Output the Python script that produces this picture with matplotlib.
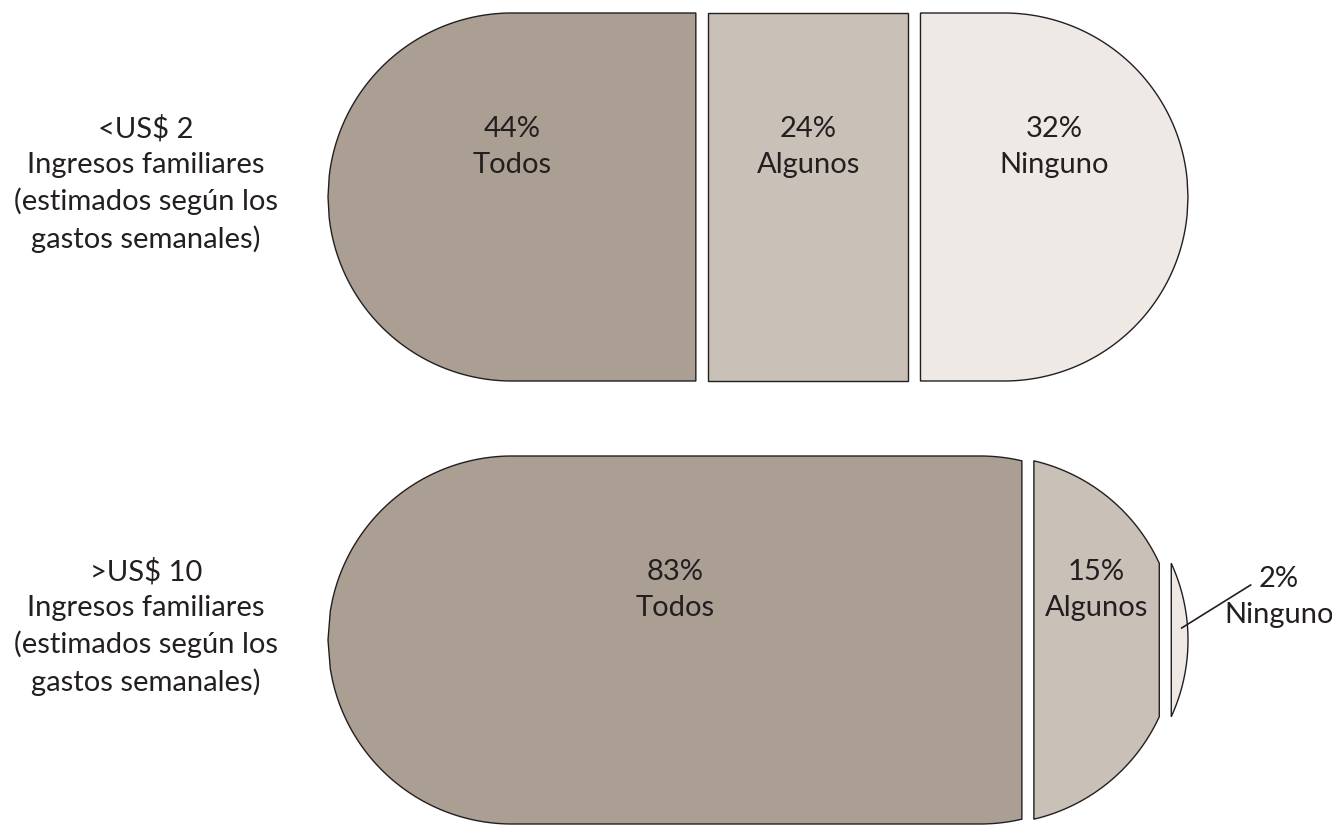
import numpy as np
import matplotlib.pyplot as plt

# data
categories = ['Todos', 'Algunos', 'Ninguno']
groups = ['<US$ 2\nIngresos familiares\n(estimados según los\ngastos semanales)',
          '>US$ 10\nIngresos familiares\n(estimados según los\ngastos semanales)']
pct_low = [44, 24, 32]
pct_high = [83, 15, 2]

colors = ['#ab9f93', '#c9c1b8', '#eee9e5']
edge = '#231f20'
txt = '#231f20'

plt.rcParams['font.family'] = ['Lato', 'DejaVu Sans']

fig = plt.figure(figsize=(13.32, 8.27), dpi=100)
ax = fig.add_axes([0, 0, 1, 1])
ax.set_xlim(0, 1332)
ax.set_ylim(827, 0)
ax.set_aspect('equal')
ax.axis('off')

# layout of each stadium (pixel units)
x_left = 328
total_w = 860
radius = 184
gap = 12
centers_y = [197, 640]
label_x = 146
fs = 21


def half_height(x, x0, w, r):
    # half height of a stadium at x
    if x < x0 + r:
        d = x0 + r - x
    elif x > x0 + w - r:
        d = x - (x0 + w - r)
    else:
        return r
    return np.sqrt(max(r * r - d * d, 0.0))


def draw_stadium(cy, pcts, group_label):
    w = total_w - gap * (len(pcts) - 1)
    cuts = np.concatenate([[0], np.cumsum(pcts) / sum(pcts) * w]) + x_left
    for i, p in enumerate(pcts):
        a, b = cuts[i], cuts[i + 1]
        xs = np.linspace(a, b, 300)
        hh = np.array([half_height(x, x_left, w, radius) for x in xs])
        shift = i * gap
        px = np.concatenate([xs, xs[::-1]]) + shift
        py = np.concatenate([cy - hh, (cy + hh)[::-1]])
        ax.fill(px, py, facecolor=colors[i], edgecolor=edge, linewidth=1.0)

        mid = (a + b) / 2 + shift
        lab = f'{p}%\n{categories[i]}'
        if p < 5:
            # small slice: label outside with a leader line
            ax.plot([mid + 2, mid + 71], [cy - 12, cy - 55], color=edge, lw=1.2)
            ax.text(mid + 99, cy - 43, lab, ha='center', va='center',
                    fontsize=fs, color=txt, linespacing=1.45)
        else:
            ax.text(mid, cy - 50, lab, ha='center', va='center',
                    fontsize=fs, color=txt, linespacing=1.45)

    ax.text(label_x, cy - 13, group_label, ha='center', va='center',
            fontsize=fs, color=txt, linespacing=1.45)


draw_stadium(centers_y[0], pct_low, groups[0])
draw_stadium(centers_y[1], pct_high, groups[1])

fig.savefig('out.png', dpi=100)
